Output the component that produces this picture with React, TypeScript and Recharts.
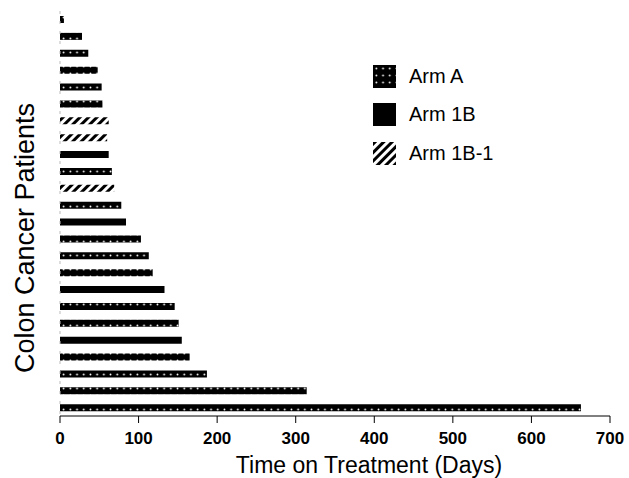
import React from 'react';
import { BarChart, Bar, XAxis, YAxis, Cell } from 'recharts';

const patients = ['P1', 'P2', 'P3', 'P4', 'P5', 'P6', 'P7', 'P8', 'P9', 'P10', 'P11', 'P12',
  'P13', 'P14', 'P15', 'P16', 'P17', 'P18', 'P19', 'P20', 'P21', 'P22', 'P23', 'P24'];
const daysOnTreatment = [5, 28, 36, 48, 53, 54, 62, 60, 62, 66, 69, 78,
  84, 103, 113, 118, 133, 146, 151, 155, 165, 187, 314, 663];
const patientArms = ['A', 'A', 'A', 'A', 'A', 'A', '1B-1', '1B-1', '1B', 'A', '1B-1', 'A',
  '1B', 'A', 'A', 'A', '1B', 'A', 'A', '1B', 'A', 'A', 'A', 'A'];
const xTicks = [0, 100, 200, 300, 400, 500, 600, 700];
const armKeys = ['A', '1B', '1B-1'];
const armLabels = ['Arm A', 'Arm 1B', 'Arm 1B-1'];

const armFill: Record<string, string> = {
  A: 'url(#dotsA)',
  '1B': '#000',
  '1B-1': 'url(#hatch1B1)',
};

const data = patients.map((p, i) => ({ patient: p, days: daysOnTreatment[i], arm: patientArms[i] }));

const FONT = '"Liberation Sans", Arial, sans-serif';

function Patterns() {
  return (
    <defs>
      <pattern id="dotsA" patternUnits="userSpaceOnUse" width="6.7" height="7">
        <rect width="6.7" height="7" fill="#000" />
        <circle cx="3.35" cy="3.5" r="0.9" fill="#fff" />
      </pattern>
      <pattern id="hatch1B1" patternUnits="userSpaceOnUse" width="6" height="6" patternTransform="rotate(45)">
        <rect width="6" height="6" fill="#fff" />
        <rect width="3" height="6" fill="#000" />
      </pattern>
    </defs>
  );
}

function LegendBox() {
  return (
    <div style={{ position: 'absolute', left: 373, top: 57, fontFamily: FONT, fontSize: 20, color: '#000' }}>
      {armKeys.map((k, i) => (
        <div key={k} style={{ display: 'flex', alignItems: 'center', height: 38.5 }}>
          <svg width={23} height={23} style={{ marginRight: 13 }}>
            <rect width={23} height={23} fill={armFill[k]} />
          </svg>
          <span>{armLabels[i]}</span>
        </div>
      ))}
    </div>
  );
}

function YLabel() {
  return (
    <text x={25} y={238} transform="rotate(-90 25 238)" textAnchor="middle" dominantBaseline="central"
      fontSize={27} fontFamily={FONT} fill="#000">
      Colon Cancer Patients
    </text>
  );
}

function XLabel() {
  return (
    <text x={369} y={473} textAnchor="middle" fontSize={23} fontFamily={FONT} fill="#000">
      Time on Treatment (Days)
    </text>
  );
}

export default function App() {
  return (
    <div style={{ position: 'absolute', left: 0, top: 0, width: 629, height: 478 }}>
      <BarChart
        width={629}
        height={478}
        data={data}
        layout="vertical"
        margin={{ top: 11, right: 19, bottom: 0, left: 38 }}
        style={{ fontFamily: FONT }}
      >
        <Patterns />
        <XAxis
          type="number"
          dataKey="days"
          domain={[0, 700]}
          ticks={xTicks}
          height={62}
          tick={{ fontSize: 17, fill: '#000', fontWeight: 'bold' }}
          tickLine={{ stroke: '#000' }}
          axisLine={{ stroke: '#000' }}
          tickSize={7}
          tickMargin={9}
          label={<XLabel />}
        />
        <YAxis
          type="category"
          dataKey="patient"
          width={22}
          tick={false}
          tickLine={false}
          axisLine={{ stroke: '#bbb', strokeDasharray: '3 7' }}
          label={<YLabel />}
        />
        <Bar dataKey="days" barSize={7} isAnimationActive={false}>
          {data.map((d) => (
            <Cell key={d.patient} fill={armFill[d.arm]} />
          ))}
        </Bar>
      </BarChart>
      <LegendBox />
    </div>
  );
}
